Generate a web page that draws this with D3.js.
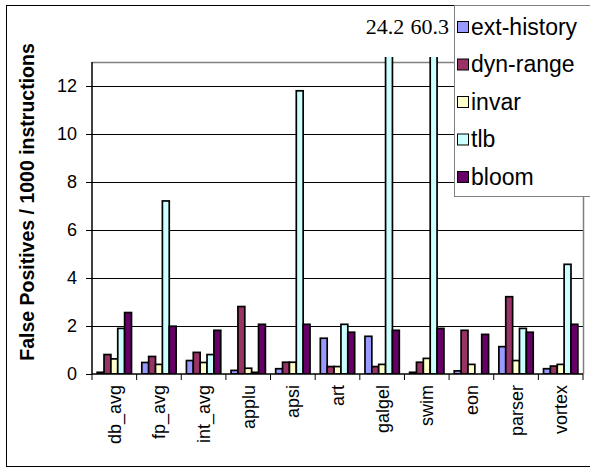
<!DOCTYPE html>
<html>
<head>
<meta charset="utf-8">
<script src="https://cdn.jsdelivr.net/npm/d3@7"></script>
<style>
  html, body { margin: 0; padding: 0; background: #fff; }
  svg { display: block; }
</style>
</head>
<body>
<div id="chart"></div>
<script>
// Benchmarks on the x axis
const categories = ["db_avg", "fp_avg", "int_avg", "applu", "apsi", "art", "galgel", "swim", "eon", "parser", "vortex"];

// Series names and fills
const seriesNames = ["ext-history", "dyn-range", "invar", "tlb", "bloom"];
const seriesColors = ["#9999FF", "#993366", "#FFFFCC", "#CCFFFF", "#660066"];

// False positives per 1000 instructions, one array per series
const extHistory = [0.07, 0.48, 0.56, 0.15, 0.22, 1.49, 1.57, 0.07, 0.13, 1.14, 0.22];
const dynRange   = [0.81, 0.73, 0.90, 2.81, 0.49, 0.31, 0.31, 0.49, 1.82, 3.22, 0.33];
const invar      = [0.63, 0.40, 0.48, 0.24, 0.49, 0.31, 0.40, 0.65, 0.40, 0.56, 0.40];
const tlb        = [1.90, 7.21, 0.81, 0.07, 11.8, 2.07, 24.2, 60.3, 0.00, 1.90, 4.57];
const bloom      = [2.56, 1.99, 1.82, 2.07, 2.07, 1.74, 1.82, 1.90, 1.65, 1.74, 2.07];

// Y axis ticks
const yTicks = [0, 2, 4, 6, 8, 10, 12];
const yMax = 13;

const seriesValues = [extHistory, dynRange, invar, tlb, bloom];

const W = 590, H = 473;
const plot = { left: 92, top: 62, right: 583, bottom: 374 };
const sans = "Liberation Sans, Arial, sans-serif";

const svg = d3.select("#chart").append("svg")
  .attr("width", W).attr("height", H);

// Outer chart frame
svg.append("rect")
  .attr("x", 6.5).attr("y", 5.5)
  .attr("width", 620).attr("height", 461)
  .attr("fill", "#fff").attr("stroke", "#000").attr("stroke-width", 1);

const x0 = d3.scaleBand().domain(categories)
  .range([plot.left, plot.right]).paddingInner(0).paddingOuter(0);
// gap width 150% of a bar: 5 bars + 1.5 bar gap per category
const barW = x0.bandwidth() / 6.5;
const x1 = d3.scaleBand().domain(seriesNames)
  .range([barW * 0.75, barW * 0.75 + barW * 5]).padding(0);

const y = d3.scaleLinear().domain([0, yMax]).range([plot.bottom, plot.top]);

// Gridlines
svg.append("g").selectAll("line")
  .data(yTicks.filter(t => t > 0))
  .join("line")
  .attr("x1", plot.left).attr("x2", plot.right)
  .attr("y1", d => Math.round(y(d)) + 0.5).attr("y2", d => Math.round(y(d)) + 0.5)
  .attr("stroke", "#000").attr("stroke-width", 1);

// Plot area top and right border
svg.append("path")
  .attr("d", `M${plot.left},${plot.top + 0.5}H${plot.right + 0.5}V${plot.bottom}`)
  .attr("fill", "none").attr("stroke", "#808080").attr("stroke-width", 1.5);

// Bars, clipped to plot area
svg.append("clipPath").attr("id", "plotClip")
  .append("rect")
  .attr("x", plot.left).attr("y", plot.top - 5)
  .attr("width", plot.right - plot.left).attr("height", plot.bottom - plot.top + 5);

const barData = [];
categories.forEach((c, i) => {
  seriesNames.forEach((s, j) => {
    barData.push({ cat: c, series: s, value: seriesValues[j][i], color: seriesColors[j] });
  });
});

svg.append("g").attr("clip-path", "url(#plotClip)")
  .selectAll("rect")
  .data(barData.filter(d => d.value > 0))
  .join("rect")
  .attr("x", d => x0(d.cat) + x1(d.series))
  .attr("y", d => y(d.value))
  .attr("width", x1.bandwidth())
  .attr("height", d => y(0) - y(d.value))
  .attr("fill", d => d.color)
  .attr("stroke", "#000").attr("stroke-width", 1.7);

// Y axis
const yAxis = d3.axisLeft(y).tickValues(yTicks).tickSize(6).tickPadding(9)
  .tickFormat(d3.format("d"));
const yg = svg.append("g").attr("transform", `translate(${plot.left},0)`).call(yAxis);
yg.select(".domain").attr("stroke", "#000").attr("stroke-width", 1.5)
  .attr("d", `M0,${plot.top}V${plot.bottom}`);
yg.selectAll(".tick line").attr("stroke", "#000");
yg.selectAll("text").attr("font-family", sans)
  .attr("font-size", 18).attr("fill", "#000");

// X axis: ticks at category boundaries
const xg = svg.append("g").attr("transform", `translate(0,${plot.bottom})`);
xg.append("line")
  .attr("x1", plot.left).attr("x2", plot.right)
  .attr("stroke", "#000").attr("stroke-width", 1.5);
const bounds = categories.map(c => x0(c)).concat([plot.right]);
xg.selectAll("line.tk").data(bounds).join("line").attr("class", "tk")
  .attr("x1", d => d).attr("x2", d => d).attr("y1", 0).attr("y2", 6)
  .attr("stroke", "#000");
xg.selectAll("text").data(categories).join("text")
  .attr("transform", d => `translate(${x0(d) + x0.bandwidth() / 2 + 6.5},11) rotate(-90)`)
  .attr("text-anchor", "end")
  .attr("font-family", sans)
  .attr("font-size", 18).attr("fill", "#000")
  .text(d => d);

// Y axis title
svg.append("text")
  .attr("transform", `translate(34,202) rotate(-90)`)
  .attr("text-anchor", "middle")
  .attr("font-family", sans)
  .attr("font-size", 19.5).attr("font-weight", "bold").attr("fill", "#000")
  .text("False Positives / 1000 instructions");

// Value labels for bars running off the top of the axis
const offScale = barData.filter(d => d.value > yMax);
svg.append("g").selectAll("text").data(offScale).join("text")
  .attr("x", d => x0(d.cat) + x1(d.series) + x1.bandwidth() / 2 - 4)
  .attr("y", 34)
  .attr("text-anchor", "middle")
  .attr("font-family", "Liberation Serif, Times New Roman, serif")
  .attr("font-size", 22).attr("fill", "#000")
  .text(d => d3.format(".1f")(d.value));

// Legend
const lg = svg.append("g");
lg.append("rect")
  .attr("x", 454.5).attr("y", 5.5).attr("width", 160).attr("height", 191)
  .attr("fill", "#fff").attr("stroke", "#808080").attr("stroke-width", 1);
const items = lg.selectAll("g.item").data(seriesNames).join("g").attr("class", "item")
  .attr("transform", (d, i) => `translate(0,${27 + i * 37.5})`);
items.append("rect")
  .attr("x", 457.5).attr("y", -5.5).attr("width", 11).attr("height", 11)
  .attr("fill", (d, i) => seriesColors[i]).attr("stroke", "#000").attr("stroke-width", 1);
items.append("text")
  .attr("x", 471).attr("y", 7.5)
  .attr("font-family", sans)
  .attr("font-size", 23).attr("fill", "#000")
  .text(d => d);
</script>
</body>
</html>
